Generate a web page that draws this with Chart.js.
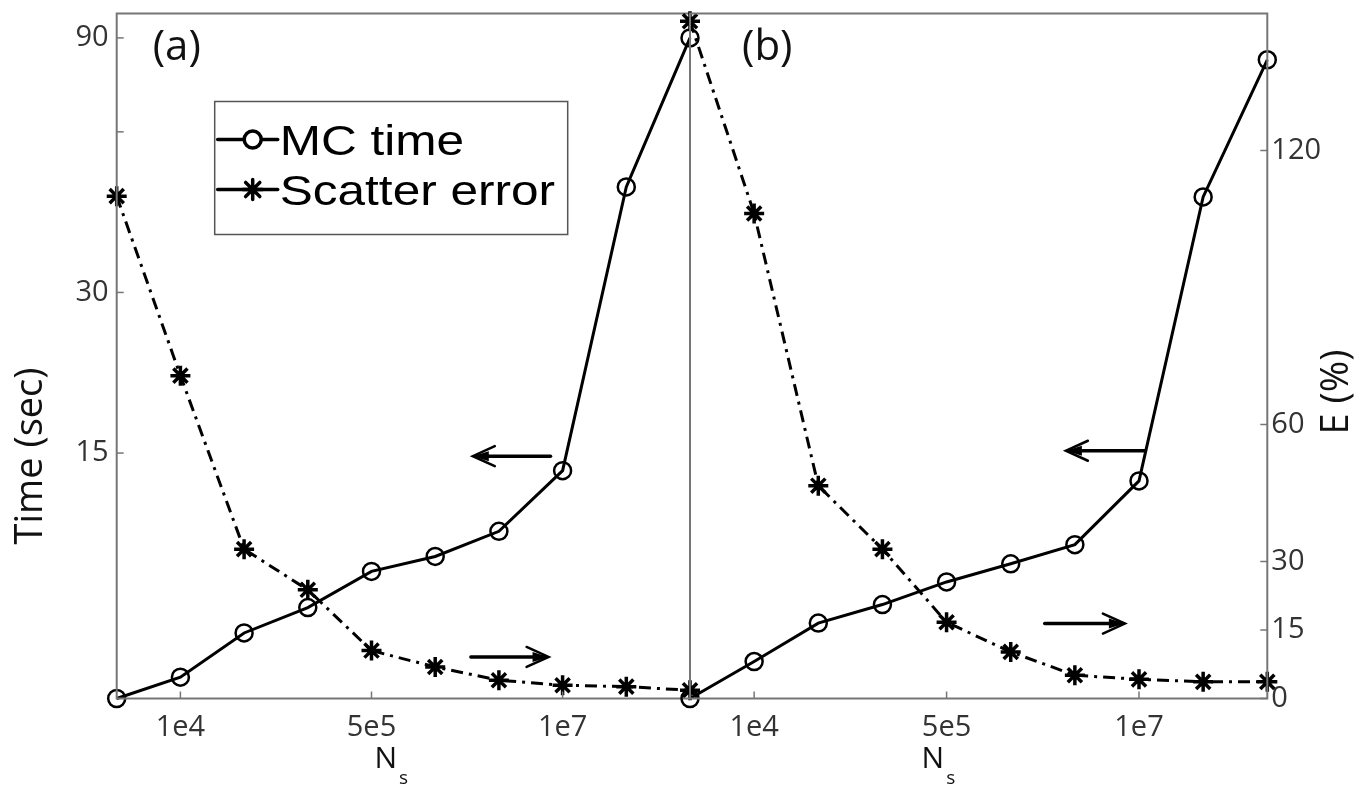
<!DOCTYPE html>
<html>
<head>
<meta charset="utf-8">
<title>MC time and scatter error vs Ns</title>
<script src="https://cdn.jsdelivr.net/npm/chart.js@4.4.1/dist/chart.umd.min.js"></script>
<style>
  html, body { margin: 0; padding: 0; background: #fff; }
  #wrap { position: relative; width: 1371px; height: 789px; }
  #wrap canvas { position: absolute; left: 0; top: 0; }
</style>
</head>
<body>
<div id="wrap">
  <canvas id="chartA" width="1371" height="789"></canvas>
  <canvas id="chartB" width="1371" height="789"></canvas>
</div>
<script>
// N_s sample sizes (only three of them carry a label on the axis)
const xLabels = ["", "1e4", "", "", "5e5", "", "", "1e7", "", ""];

// panel (a)
const timeA = [5.2, 5.7, 6.9, 7.7, 9.0, 9.6, 10.7, 13.9, 47.3, 90];
const errorA = [110.0, 70.7, 32.7, 23.8, 10.5, 6.9, 4.0, 2.9, 2.6, 1.8];

// panel (b)
const timeB = [5.2, 6.1, 7.2, 7.8, 8.6, 9.3, 10.1, 13.3, 45.3, 81.9];
const errorB = [148.3, 106.2, 46.6, 32.7, 16.7, 10.2, 5.1, 4.2, 3.65, 3.65];

// axes
const timeTicks = [15, 30, 60, 90];
const timeTickLabels = ["15", "30", "", "90"];
const errorTicks = [0, 15, 30, 60, 120];
const timeRange = [5.2, 100];
const errorRange = [0, 150];

// arrows telling which axis a curve is read on (x in sample index, y in axis units)
const arrowsA = [
  { axis: "yT", from: 6.81, to: 5.59, value: 14.8 },
  { axis: "yE", from: 5.56, to: 6.78, value: 9.1 }
];
const arrowsB = [
  { axis: "yT", from: 7.1, to: 5.86, value: 15.15 },
  { axis: "yE", from: 5.53, to: 6.78, value: 16.4 }
];

const W = 1371, H = 789;
const AXIS_GREY = "#767676";
const TICK_FONT = { family: "'Open Sans', 'DejaVu Sans', sans-serif", size: 29 };
const TITLE_FONT = "38px 'Open Sans', 'DejaVu Sans', sans-serif";

// frame round the plot area + MATLAB style inward tick marks
const framePlugin = {
  id: "frame",
  afterDatasetsDraw(chart) {
    const { ctx, chartArea: ca } = chart;
    ctx.save();
    ctx.strokeStyle = AXIS_GREY;
    ctx.lineWidth = 2;
    ctx.strokeRect(ca.left, ca.top, ca.right - ca.left, ca.bottom - ca.top);
    ctx.lineWidth = 1.5;
    Object.values(chart.scales).forEach((s) => {
      if (!s.options.display) return;
      s.ticks.forEach((t, i) => {
        ctx.beginPath();
        if (s.isHorizontal()) {
          if (!xLabels[i]) return;
          const x = s.getPixelForTick(i);
          ctx.moveTo(x, ca.bottom);
          ctx.lineTo(x, ca.bottom - 7);
        } else {
          const y = s.getPixelForValue(t.value);
          const x0 = s.position === "left" ? ca.left : ca.right;
          const dir = s.position === "left" ? 1 : -1;
          ctx.moveTo(x0, y);
          ctx.lineTo(x0 + dir * 7, y);
        }
        ctx.stroke();
      });
    });
    ctx.restore();
  }
};

// panel letter, axis titles, arrows and (panel a only) the legend
const decorPlugin = {
  id: "decor",
  afterDatasetsDraw(chart, args, opts) {
    const { ctx, chartArea: ca, scales } = chart;
    ctx.save();
    ctx.fillStyle = "#111";

    // panel label
    ctx.font = "42px 'Open Sans', sans-serif";
    ctx.textAlign = "left";
    ctx.textBaseline = "alphabetic";
    ctx.fillText(opts.panel, ca.left + opts.panelDx, 60);

    // N_s under the x axis
    const xs = scales.x;
    const nx = xs.getPixelForValue(4) + opts.nsDx;
    ctx.font = "30px 'Open Sans', sans-serif";
    ctx.fillText("N", nx, 768);
    const nw = ctx.measureText("N").width;
    ctx.font = "19px 'Open Sans', sans-serif";
    ctx.fillText("s", nx + nw + 2, 784);

    // rotated y title
    if (opts.yTitle) {
      ctx.font = TITLE_FONT;
      ctx.textAlign = "center";
      ctx.translate(opts.yTitle.x, opts.yTitle.y);
      ctx.rotate(-Math.PI / 2);
      ctx.fillText(opts.yTitle.text, 0, 0);
      ctx.setTransform(1, 0, 0, 1, 0, 0);
    }

    // arrows
    ctx.strokeStyle = "#000";
    ctx.fillStyle = "#000";
    ctx.lineCap = "round";
    opts.arrows.forEach((a) => {
      const x0 = xs.getPixelForValue(a.from);
      const x1 = xs.getPixelForValue(a.to);
      const y = scales[a.axis].getPixelForValue(a.value);
      const dir = x1 > x0 ? 1 : -1;
      ctx.lineWidth = 3.5;
      ctx.beginPath();
      ctx.moveTo(x0, y);
      ctx.lineTo(x1 - dir * 4, y);
      ctx.stroke();
      ctx.lineWidth = 2.5;
      ctx.beginPath();
      ctx.moveTo(x1 - dir * 22, y - 10);
      ctx.lineTo(x1, y);
      ctx.lineTo(x1 - dir * 22, y + 10);
      ctx.stroke();
      ctx.beginPath();
      ctx.moveTo(x1, y);
      ctx.lineTo(x1 - dir * 16, y - 5);
      ctx.lineTo(x1 - dir * 16, y + 5);
      ctx.closePath();
      ctx.fill();
    });

    // legend box
    if (opts.legend) {
      const bx = ca.left + 98, by = ca.top + 88, bw = 353, bh = 133;
      ctx.fillStyle = "#fff";
      ctx.fillRect(bx, by, bw, bh);
      ctx.strokeStyle = "#555";
      ctx.lineWidth = 1.5;
      ctx.strokeRect(bx, by, bw, bh);
      ctx.font = "42px 'Liberation Sans', Arial, sans-serif";
      ctx.textAlign = "left";
      chart.data.datasets.forEach((ds, i) => {
        const yMid = by + 38 + i * 50;
        ctx.strokeStyle = "#000";
        ctx.lineWidth = 3.5;
        ctx.beginPath();
        ctx.moveTo(bx + 3, yMid);
        ctx.lineTo(bx + 63, yMid);
        ctx.stroke();
        Chart.helpers.drawPoint(ctx, {
          pointStyle: ds.pointStyle,
          radius: ds.pointRadius,
          borderWidth: ds.pointBorderWidth + 0.5,
          rotation: 0
        }, bx + 38, yMid);
        // the original legend text is drawn slightly stretched
        ctx.save();
        ctx.translate(bx + 65, yMid + 15);
        ctx.scale(1.18, 1);
        ctx.fillStyle = "#000";
        ctx.fillText(ds.label, 0, 0);
        ctx.restore();
      });
    }
    ctx.restore();
  }
};

function datasetsFor(time, error) {
  return [
    {
      label: "MC time",
      data: time,
      yAxisID: "yT",
      borderColor: "#000",
      borderWidth: 3,
      pointStyle: "circle",
      pointRadius: 8.5,
      pointBorderWidth: 2.5,
      pointBorderColor: "#000",
      pointBackgroundColor: "rgba(0,0,0,0)",
      tension: 0,
      clip: false
    },
    {
      label: "Scatter error",
      data: error,
      yAxisID: "yE",
      borderColor: "#000",
      borderWidth: 3,
      borderDash: [12, 6, 3, 6],
      pointStyle: "star",
      pointRadius: 10,
      pointBorderWidth: 3.5,
      pointBorderColor: "#000",
      pointBackgroundColor: "#000",
      tension: 0,
      clip: false
    }
  ];
}

function makeChart(id, time, error, cfg) {
  return new Chart(document.getElementById(id), {
    type: "line",
    data: { labels: xLabels, datasets: datasetsFor(time, error) },
    options: {
      responsive: false,
      animation: false,
      devicePixelRatio: 1,
      events: [],
      layout: { padding: cfg.padding },
      plugins: {
        legend: { display: false },
        tooltip: { enabled: false },
        decor: cfg.decor
      },
      scales: {
        x: {
          type: "category",
          offset: false,
          grid: { display: false, drawTicks: false },
          border: { display: false },
          ticks: {
            autoSkip: false,
            maxRotation: 0,
            padding: 12,
            color: "#333",
            font: TICK_FONT,
            callback: (v, i) => xLabels[i]
          },
          afterFit: (s) => {
            s.height = H - 698.5;
            s.paddingLeft = 0;
            s.paddingRight = 0;
          }
        },
        yT: {
          type: "logarithmic",
          position: "left",
          display: cfg.showTime,
          min: timeRange[0],
          max: timeRange[1],
          grid: { display: false, drawTicks: false },
          border: { display: false },
          afterBuildTicks: (s) => { s.ticks = timeTicks.map((v) => ({ value: v })); },
          ticks: {
            padding: 8,
            color: "#333",
            font: TICK_FONT,
            callback: (v) => {
              const k = timeTicks.indexOf(v);
              return k >= 0 ? timeTickLabels[k] : "";
            }
          },
          afterFit: (s) => {
            s.width = s.options.display ? 116.7 : 0;
            s.paddingTop = 0;
            s.paddingBottom = 0;
          }
        },
        yE: {
          type: "linear",
          position: "right",
          display: cfg.showError,
          min: errorRange[0],
          max: errorRange[1],
          grid: { display: false, drawTicks: false },
          border: { display: false },
          afterBuildTicks: (s) => { s.ticks = errorTicks.map((v) => ({ value: v })); },
          ticks: {
            padding: 4,
            color: "#333",
            font: TICK_FONT,
            callback: (v) => String(v)
          },
          afterFit: (s) => {
            s.width = s.options.display ? W - 1267.3 : 0;
            s.paddingTop = 0;
            s.paddingBottom = 0;
          }
        }
      }
    },
    plugins: [framePlugin, decorPlugin]
  });
}

makeChart("chartA", timeA, errorA, {
  padding: { left: 0, top: 10.7, right: W - 690, bottom: 0 },
  showTime: true,
  showError: false,
  decor: {
    panel: "(a)",
    panelDx: 36,
    nsDx: 3,
    yTitle: { text: "Time (sec)", x: 42, y: 456 },
    arrows: arrowsA,
    legend: true
  }
});

makeChart("chartB", timeB, errorB, {
  padding: { left: 690, top: 10.7, right: 0, bottom: 0 },
  showTime: false,
  showError: true,
  decor: {
    panel: "(b)",
    panelDx: 52,
    nsDx: -25,
    yTitle: { text: "E (%)", x: 1348, y: 392 },
    arrows: arrowsB,
    legend: false
  }
});
</script>
</body>
</html>
